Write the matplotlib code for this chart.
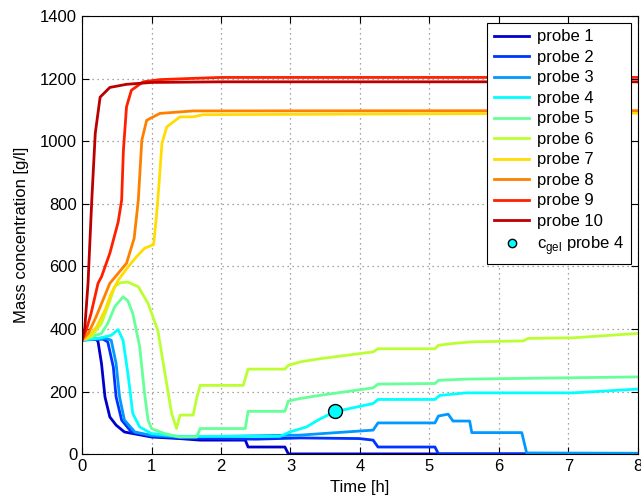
import numpy as np
import matplotlib
matplotlib.use("Agg")
import matplotlib.pyplot as plt

plt.rcParams['font.family'] = ['Liberation Sans', 'DejaVu Sans']
plt.rcParams['mathtext.fontset'] = 'custom'
plt.rcParams['mathtext.rm'] = 'Liberation Sans'

# time [h] and mass concentration [g/l]
t1 = [0, 0.2, 0.23, 0.28, 0.33, 0.40, 0.49, 0.61, 1.0, 1.4, 1.70, 2.35, 2.39, 2.92, 2.97, 8]
c1 = [365, 368, 360, 290, 183, 119, 93, 71, 55, 50, 45, 45, 23, 23, 1, 1]

t2 = [0, 0.3, 0.37, 0.45, 0.49, 0.57, 0.71, 1.0, 1.4, 2.5, 3.14, 3.99, 4.19, 4.26, 5.08, 5.13, 8]
c2 = [365, 368, 359, 279, 183, 109, 71, 58, 52, 48, 52, 50, 45, 23, 23, 1, 1]

t3 = [0, 0.35, 0.42, 0.49, 0.54, 0.61, 0.76, 1.0, 1.4, 3.14, 4.19, 4.26, 5.08, 5.13, 5.27,
      5.34, 5.58, 5.61, 6.33, 6.40, 8]
c3 = [365, 370, 364, 290, 183, 109, 71, 60, 55, 61, 77, 100, 100, 122, 128,
      106, 106, 69, 69, 4, 3]

t4 = [0, 0.23, 0.42, 0.52, 0.59, 0.66, 0.73, 0.83, 1.0, 1.4, 2.85, 2.99, 3.23, 3.42, 3.64,
      4.19, 4.26, 5.08, 5.15, 5.53, 7.07, 8]
c4 = [365, 370, 380, 398, 364, 258, 130, 87, 66, 57, 57, 71, 87, 112, 136,
      162, 175, 175, 188, 196, 196, 208]

t5 = [0, 0.13, 0.28, 0.37, 0.47, 0.59, 0.66, 0.73, 0.83, 0.9, 0.95, 1.0, 1.19, 1.4, 1.65,
      1.70, 2.35, 2.39, 2.92, 2.97, 3.14, 3.42, 4.19, 4.26, 5.08, 5.13, 5.53, 8]
c5 = [365, 375, 386, 418, 471, 503, 490, 450, 343, 194, 109, 82, 66, 55, 55,
      82, 82, 137, 137, 170, 178, 188, 212, 224, 226, 236, 240, 247]

t6 = [0, 0.13, 0.28, 0.4, 0.47, 0.55, 0.66, 0.81, 0.95, 1.09, 1.17, 1.21, 1.29, 1.36, 1.41,
      1.6, 1.65, 1.70, 2.32, 2.39, 2.92, 2.97, 3.14, 3.42, 4.19, 4.26, 5.08, 5.13, 5.34,
      5.61, 6.35, 6.42, 7.07, 8]
c6 = [365, 375, 418, 490, 535, 548, 550, 535, 482, 396, 290, 236, 130, 82, 125,
      125, 179, 220, 220, 272, 272, 284, 295, 305, 327, 337, 337, 348, 354,
      359, 362, 370, 372, 386]

t7 = [0, 0.09, 0.21, 0.33, 0.42, 0.52, 0.66, 0.78, 0.9, 1.03, 1.07, 1.10, 1.15, 1.22, 1.41,
      1.6, 1.74, 8]
c7 = [365, 375, 407, 460, 514, 556, 598, 630, 658, 670, 758, 840, 993, 1046, 1078,
      1078, 1085, 1090]

t8 = [0, 0.09, 0.2, 0.3, 0.4, 0.52, 0.64, 0.75, 0.81, 0.86, 0.93, 1.12, 1.6, 8]
c8 = [365, 386, 438, 492, 546, 578, 610, 690, 812, 1003, 1067, 1089, 1097, 1098]

t9 = [0, 0.06, 0.13, 0.23, 0.28, 0.4, 0.52, 0.57, 0.595, 0.64, 0.71, 0.88, 1.12, 1.6, 2.0, 8]
c9 = [365, 396, 450, 546, 567, 642, 742, 812, 970, 1110, 1163, 1190, 1197, 1201, 1204, 1204]

t10 = [0, 0.04, 0.086, 0.14, 0.19, 0.26, 0.4, 0.64, 1.0, 2, 8]
c10 = [365, 405, 546, 812, 1025, 1141, 1172, 1182, 1188, 1190, 1190]

t_gel = [3.64]
c_gel = [137]

times = [t1, t2, t3, t4, t5, t6, t7, t8, t9, t10]
concs = [c1, c2, c3, c4, c5, c6, c7, c8, c9, c10]
labels = ['probe %d' % (i + 1) for i in range(10)]
colors = ['#0000cc', '#0033ff', '#0099ff', '#00ffff', '#66ff99',
          '#bbff33', '#ffdd00', '#ff8000', '#ff2000', '#bb0000']

fig = plt.figure(figsize=(6.41, 5.03), dpi=100)
ax = fig.add_axes([0.128, 0.097, 0.867, 0.871])

for t, c, lab, col in zip(times, concs, labels, colors):
    ax.plot(t, c, color=col, lw=2.0, label=lab)
ax.plot(t_gel, c_gel, 'o', ms=10, mfc='#00ffff', mec='black', mew=1.0,
        label=r'c$_{\rm gel}$ probe 4')

ax.set_xlim(0, 8)
ax.set_ylim(0, 1400)
ax.set_xticks(range(0, 9))
ax.set_yticks(range(0, 1401, 200))
ax.grid(True, linestyle=(0, (1, 3)), color='#888888', lw=0.9)
ax.tick_params(direction='in', top=True, right=True, length=5, labelsize=12)
ax.set_xlabel('Time [h]', fontsize=12)
ax.set_ylabel('Mass concentration [g/l]', fontsize=12, labelpad=8)

leg = ax.legend(loc='upper right', fontsize=12, fancybox=False, framealpha=1,
                edgecolor='black', handlelength=2.1, labelspacing=0.33,
                borderaxespad=0.4, markerscale=0.6, handletextpad=0.5)
leg.get_frame().set_linewidth(0.8)

fig.savefig('out.png', dpi=100)
